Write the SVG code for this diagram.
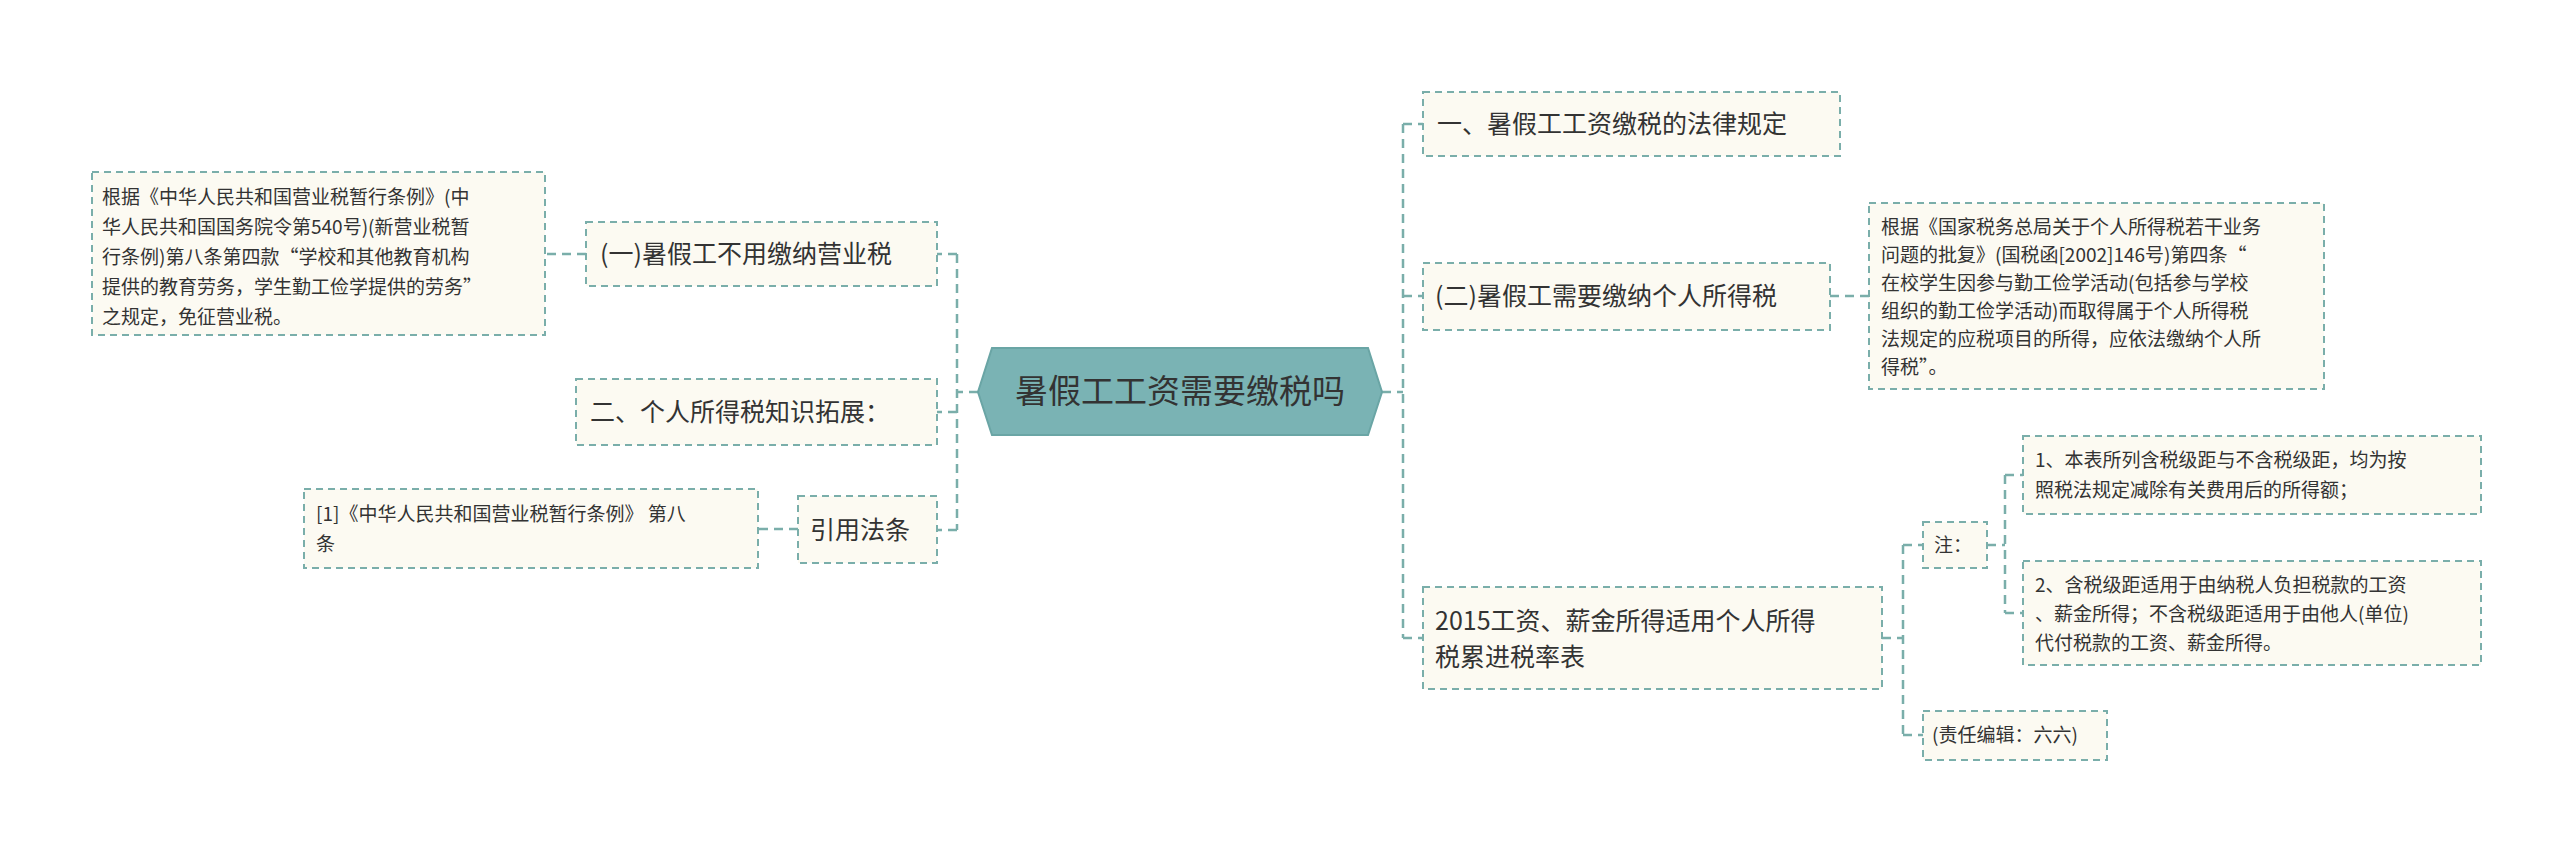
<svg xmlns="http://www.w3.org/2000/svg" width="2560" height="849" viewBox="0 0 2560 849">
<style>
.b{fill:#fcfaf2;stroke:#7aaeaa;stroke-width:2;stroke-dasharray:7 5}
.c{fill:none;stroke:#7aaeaa;stroke-width:2.5;stroke-dasharray:9 6}
text{font-family:"Noto Sans CJK SC","Liberation Sans",sans-serif;fill:#333}
.t{font-size:25px}
.s{font-size:19px}
</style>
<rect width="2560" height="849" fill="#fff"/>
<g id="connectors">
<path class="c" d="M1382 392 H1403 M1403 124 V638 M1403 124 H1423 M1403 296 H1423 M1403 638 H1423"/>
<path class="c" d="M978 392 H957 M957 254 V530 M957 254 H937 M957 412 H937 M957 530 H937"/>
<path class="c" d="M586 254 H545 M798 529 H758"/>
<path class="c" d="M1830 296 H1869"/>
<path class="c" d="M1882 638 H1903 M1903 545 V735 M1903 545 H1923 M1903 735 H1923"/>
<path class="c" d="M1987 545 H2005 M2005 475 V613 M2005 475 H2023 M2005 613 H2023"/>
</g>
<g id="root">
<polygon points="992,348 1368,348 1382,392 1368,435 992,435 978,392" fill="#7ab3b4" stroke="#6aa5a5" stroke-width="2"/>
<text x="1180" y="403" font-size="33" text-anchor="middle">暑假工工资需要缴税吗</text>
</g>
<g id="n1"><rect class="b" x="586" y="222" width="351" height="64"/><text class="t" x="600" y="263">(一)暑假工不用缴纳营业税</text></g>
<g id="n1d"><rect class="b" x="92" y="172" width="453" height="163"/>
<text class="s" x="102" y="204">根据《中华人民共和国营业税暂行条例》(中</text>
<text class="s" x="102" y="234">华人民共和国国务院令第540号)(新营业税暂</text>
<text class="s" x="102" y="264">行条例)第八条第四款“学校和其他教育机构</text>
<text class="s" x="102" y="294">提供的教育劳务，学生勤工俭学提供的劳务”</text>
<text class="s" x="102" y="324">之规定，免征营业税。</text></g>
<g id="n2"><rect class="b" x="576" y="379" width="361" height="66"/><text class="t" x="590" y="421">二、个人所得税知识拓展：</text></g>
<g id="n3"><rect class="b" x="798" y="496" width="139" height="67"/><text class="t" x="810" y="539">引用法条</text></g>
<g id="n3d"><rect class="b" x="304" y="489" width="454" height="79"/>
<text class="s" x="316" y="521">[1]《中华人民共和国营业税暂行条例》 第八</text>
<text class="s" x="316" y="551">条</text></g>
<g id="r1"><rect class="b" x="1423" y="92" width="417" height="64"/><text class="t" x="1437" y="133">一、暑假工工资缴税的法律规定</text></g>
<g id="r2"><rect class="b" x="1423" y="263" width="407" height="67"/><text class="t" x="1435" y="305">(二)暑假工需要缴纳个人所得税</text></g>
<g id="r2d"><rect class="b" x="1869" y="203" width="455" height="186"/>
<text class="s" x="1881" y="234">根据《国家税务总局关于个人所得税若干业务</text>
<text class="s" x="1881" y="262">问题的批复》(国税函[2002]146号)第四条“</text>
<text class="s" x="1881" y="290">在校学生因参与勤工俭学活动(包括参与学校</text>
<text class="s" x="1881" y="318">组织的勤工俭学活动)而取得属于个人所得税</text>
<text class="s" x="1881" y="346">法规定的应税项目的所得，应依法缴纳个人所</text>
<text class="s" x="1881" y="374">得税”。</text></g>
<g id="r3"><rect class="b" x="1423" y="587" width="459" height="102"/>
<text class="t" x="1435" y="630">2015工资、薪金所得适用个人所得</text>
<text class="t" x="1435" y="666">税累进税率表</text></g>
<g id="r3a"><rect class="b" x="1923" y="522" width="64" height="46"/><text class="s" x="1934" y="552">注：</text></g>
<g id="r3a1"><rect class="b" x="2023" y="436" width="458" height="78"/>
<text class="s" x="2035" y="467">1、本表所列含税级距与不含税级距，均为按</text>
<text class="s" x="2035" y="497">照税法规定减除有关费用后的所得额；</text></g>
<g id="r3a2"><rect class="b" x="2023" y="561" width="458" height="104"/>
<text class="s" x="2035" y="592">2、含税级距适用于由纳税人负担税款的工资</text>
<text class="s" x="2035" y="621">、薪金所得；不含税级距适用于由他人(单位)</text>
<text class="s" x="2035" y="650">代付税款的工资、薪金所得。</text></g>
<g id="r3b"><rect class="b" x="1923" y="711" width="184" height="49"/><text class="s" x="1932" y="742">(责任编辑：六六)</text></g>
</svg>
